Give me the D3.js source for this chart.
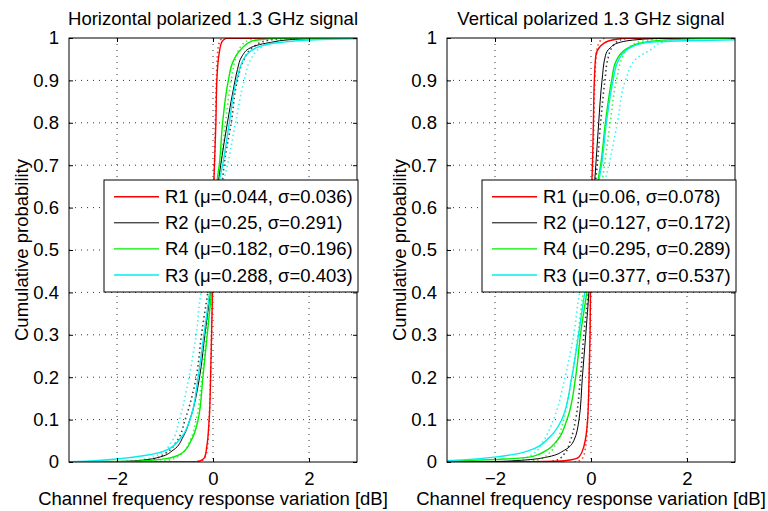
<!DOCTYPE html>
<html>
<head>
<meta charset="utf-8">
<script src="https://cdn.jsdelivr.net/npm/d3@7"></script>
<style>
  body { margin: 0; background: #fff; }
  svg { display: block; font-family: "Liberation Sans", Arial, Helvetica, sans-serif; }
</style>
</head>
<body>
<div id="chart"></div>
<script>
// ---- data ----
const panelTitles = ["Horizontal polarized 1.3 GHz signal", "Vertical polarized 1.3 GHz signal"];
const seriesNames = ["R1", "R2", "R4", "R3"];
const hStats = [[0.044, 0.036], [0.25, 0.291], [0.182, 0.196], [0.288, 0.403]];
const vStats = [[0.06, 0.078], [0.127, 0.172], [0.295, 0.289], [0.377, 0.537]];
const xTicks = [-2, 0, 2];
const yTicks = [0, 0.1, 0.2, 0.3, 0.4, 0.5, 0.6, 0.7, 0.8, 0.9, 1];
const xLabel = "Channel frequency response variation [dB]";
const yLabel = "Cumulative probability";

// [x in dB, cumulative probability] -- measured (solid) and fitted (dotted)
const hR1 = [[-3,0],[-0.31,0.001],[-0.17,0.012],[-0.13,0.036],[-0.08,0.1],[-0.05,0.2],[-0.03,0.3],[-0.01,0.406],[0,0.5],[0.02,0.667],[0.03,0.7],[0.06,0.8],[0.08,0.9],[0.13,0.965],[0.18,0.99],[0.27,0.999],[3,1]];
const hR1Fit = [[-0.42,0],[-0.2,0.005],[-0.12,0.03],[-0.08,0.1],[-0.05,0.2],[-0.03,0.3],[-0.01,0.406],[0,0.5],[0.02,0.667],[0.03,0.7],[0.05,0.8],[0.07,0.9],[0.1,0.97],[0.15,0.995],[0.22,1]];
const hR2 = [[-3,0],[-2.3,0.0005],[-1.6,0.003],[-1.1,0.012],[-0.83,0.028],[-0.62,0.06],[-0.48,0.1],[-0.28,0.2],[-0.17,0.3],[-0.05,0.406],[0.03,0.5],[0.12,0.667],[0.16,0.7],[0.3,0.8],[0.46,0.9],[0.51,0.926],[0.61,0.958],[0.78,0.977],[1.17,0.989],[1.72,0.997],[2.75,0.9995],[3,1]];
const hR2Fit = [[-1.8,0],[-1.3,0.005],[-1.0,0.02],[-0.75,0.05],[-0.58,0.1],[-0.35,0.2],[-0.24,0.3],[-0.1,0.406],[0.02,0.5],[0.2,0.667],[0.23,0.7],[0.38,0.8],[0.51,0.9],[0.65,0.95],[0.85,0.98],[1.16,0.995],[1.6,1]];
const hR4 = [[-3,0],[-2.7,0.0005],[-1.6,0.002],[-0.97,0.008],[-0.66,0.02],[-0.45,0.052],[-0.31,0.1],[-0.21,0.2],[-0.12,0.3],[-0.03,0.406],[0.02,0.5],[0.09,0.667],[0.13,0.7],[0.2,0.8],[0.32,0.9],[0.41,0.942],[0.58,0.973],[0.82,0.993],[1.37,0.9995],[3,1]];
const hR4Fit = [[-1.3,0],[-0.9,0.005],[-0.65,0.02],[-0.48,0.05],[-0.35,0.1],[-0.23,0.2],[-0.14,0.3],[-0.08,0.406],[0,0.5],[0.12,0.667],[0.16,0.7],[0.26,0.8],[0.38,0.9],[0.47,0.95],[0.58,0.98],[0.75,0.995],[1.0,1]];
const hR3 = [[-3,0.001],[-2.63,0.002],[-1.94,0.008],[-1.39,0.016],[-0.97,0.028],[-0.65,0.06],[-0.48,0.1],[-0.31,0.2],[-0.19,0.3],[-0.06,0.406],[0.04,0.5],[0.14,0.667],[0.2,0.7],[0.34,0.8],[0.49,0.9],[0.68,0.958],[0.95,0.979],[1.43,0.99],[2.4,0.997],[3,0.998]];
const hR3Fit = [[-2.0,0],[-1.5,0.005],[-1.1,0.02],[-0.85,0.05],[-0.7,0.1],[-0.5,0.2],[-0.35,0.3],[-0.24,0.406],[-0.02,0.5],[0.23,0.667],[0.3,0.7],[0.47,0.8],[0.65,0.9],[0.79,0.95],[1.03,0.98],[1.43,0.995],[2.0,1]];

const vR1 = [[-3,0],[-1.25,0.001],[-0.55,0.003],[-0.25,0.012],[-0.15,0.036],[-0.07,0.1],[-0.04,0.2],[-0.02,0.3],[-0.01,0.406],[0,0.5],[0.02,0.667],[0.03,0.7],[0.05,0.8],[0.07,0.9],[0.1,0.958],[0.19,0.98],[0.36,0.993],[0.71,0.9995],[3,1]];
const vR1Fit = [[-0.35,0],[-0.2,0.005],[-0.12,0.03],[-0.07,0.1],[-0.04,0.2],[-0.02,0.3],[-0.01,0.406],[0,0.5],[0.03,0.667],[0.04,0.7],[0.06,0.8],[0.08,0.9],[0.12,0.97],[0.2,0.995],[0.3,1]];
const vR2 = [[-3,0],[-2.3,0.0005],[-1.6,0.003],[-0.9,0.012],[-0.55,0.028],[-0.36,0.05],[-0.25,0.1],[-0.18,0.2],[-0.11,0.3],[-0.04,0.406],[0,0.5],[0.08,0.667],[0.1,0.7],[0.16,0.8],[0.23,0.9],[0.3,0.958],[0.4,0.977],[0.58,0.989],[1.07,0.997],[1.7,0.9995],[3,1]];
const vR2Fit = [[-0.9,0],[-0.7,0.005],[-0.55,0.02],[-0.43,0.05],[-0.32,0.1],[-0.22,0.2],[-0.15,0.3],[-0.05,0.406],[0.02,0.5],[0.1,0.667],[0.13,0.7],[0.2,0.8],[0.29,0.9],[0.35,0.95],[0.45,0.98],[0.6,0.995],[0.8,1]];
const vR4 = [[-3,0.002],[-1.96,0.006],[-1.26,0.012],[-0.92,0.028],[-0.71,0.05],[-0.5,0.1],[-0.32,0.2],[-0.22,0.3],[-0.08,0.406],[0.03,0.5],[0.15,0.667],[0.2,0.7],[0.3,0.8],[0.43,0.9],[0.51,0.942],[0.72,0.973],[1.07,0.989],[1.49,0.995],[2.1,0.998],[2.8,0.9995],[3,1]];
const vR4Fit = [[-1.4,0],[-1.1,0.005],[-0.88,0.02],[-0.71,0.05],[-0.57,0.1],[-0.4,0.2],[-0.27,0.3],[-0.15,0.406],[0.05,0.5],[0.24,0.667],[0.28,0.7],[0.4,0.8],[0.53,0.9],[0.67,0.958],[0.95,0.989],[1.5,1]];
const vR3 = [[-3,0.003],[-2.67,0.005],[-1.97,0.012],[-1.27,0.028],[-0.85,0.06],[-0.61,0.1],[-0.4,0.2],[-0.26,0.3],[-0.12,0.406],[0.03,0.5],[0.17,0.667],[0.22,0.7],[0.32,0.8],[0.46,0.9],[0.55,0.942],[0.76,0.973],[1.14,0.989],[1.77,0.993],[3,0.996]];
const vR3Fit = [[-1.9,0],[-1.5,0.005],[-1.2,0.02],[-0.99,0.05],[-0.78,0.1],[-0.54,0.2],[-0.36,0.3],[-0.22,0.406],[0.05,0.5],[0.3,0.667],[0.37,0.7],[0.55,0.8],[0.72,0.9],[0.93,0.95],[1.25,0.973],[1.5,0.99],[1.7,0.995],[2.3,1]];

// ---- styles ----
const colors = { R1: "#ff0000", R2: "#000000", R4: "#00ee00", R3: "#00eeee" };
const widths = { R1: 1.4, R2: 1, R4: 1.4, R3: 1.4 };
const fontSize = 18.5;

const W = 768, H = 511;
const plotTop = 38, plotH = 424, plotW = 288;
const panelLefts = [69, 447];

const svg = d3.select("#chart").append("svg").attr("width", W).attr("height", H);

const panels = [
  { title: panelTitles[0], stats: hStats,
    solid: { R1: hR1, R2: hR2, R4: hR4, R3: hR3 },
    fit: { R1: hR1Fit, R2: hR2Fit, R4: hR4Fit, R3: hR3Fit } },
  { title: panelTitles[1], stats: vStats,
    solid: { R1: vR1, R2: vR2, R4: vR4, R3: vR3 },
    fit: { R1: vR1Fit, R2: vR2Fit, R4: vR4Fit, R3: vR3Fit } }
];

const x = d3.scaleLinear().domain([-3, 3]).range([0, plotW]);
const y = d3.scaleLinear().domain([0, 1]).range([plotH, 0]);
const line = d3.line().x((d) => x(d[0])).y((d) => y(d[1])).curve(d3.curveMonotoneY);

panels.forEach((panel, i) => {
  const g = svg.append("g").attr("transform", `translate(${panelLefts[i]},${plotTop})`);

  g.append("clipPath").attr("id", `clip${i}`)
    .append("rect").attr("width", plotW).attr("height", plotH);

  // dotted grid
  const grid = g.append("g")
    .style("stroke", "#333").style("stroke-width", 1).style("stroke-dasharray", "1,5");
  grid.selectAll(".gx").data(xTicks).enter().append("line")
    .attr("x1", (d) => x(d)).attr("x2", (d) => x(d)).attr("y1", 0).attr("y2", plotH);
  grid.selectAll(".gy").data(yTicks.slice(1, -1)).enter().append("line")
    .attr("y1", (d) => y(d)).attr("y2", (d) => y(d)).attr("x1", 0).attr("x2", plotW);

  // curves
  const curves = g.append("g").attr("clip-path", `url(#clip${i})`).style("fill", "none");
  seriesNames.forEach((s) => {
    curves.append("path").datum(panel.fit[s]).attr("d", line)
      .style("stroke", colors[s]).style("stroke-width", 1.6)
      .style("stroke-dasharray", "1.5,3").style("opacity", 0.75);
  });
  seriesNames.forEach((s) => {
    curves.append("path").datum(panel.solid[s]).attr("d", line)
      .style("stroke", colors[s]).style("stroke-width", widths[s]);
  });

  // axes with inward ticks on all four sides
  const fmtY = (d) => (d === 0 || d === 1 ? d3.format("d")(d) : d3.format(".1f")(d));
  const fmtX = (d) => (d < 0 ? "\u2212" + Math.abs(d) : String(d));
  const axisStyle = (sel) => {
    sel.select(".domain").remove();
    sel.selectAll(".tick line").style("stroke", "#000");
    sel.selectAll("text").style("font-size", fontSize + "px").style("fill", "#000")
      .style("font-family", "'Liberation Sans', Arial, sans-serif");
  };
  g.append("g").attr("transform", `translate(0,${plotH})`)
    .call(d3.axisBottom(x).tickValues(xTicks).tickFormat(fmtX).tickSizeInner(-4).tickPadding(10))
    .call(axisStyle);
  g.append("g")
    .call(d3.axisTop(x).tickValues(xTicks).tickFormat("").tickSizeInner(-4))
    .call(axisStyle);
  g.append("g")
    .call(d3.axisLeft(y).tickValues(yTicks).tickFormat(fmtY).tickSizeInner(-4).tickPadding(10))
    .call(axisStyle);
  g.append("g").attr("transform", `translate(${plotW},0)`)
    .call(d3.axisRight(y).tickValues(yTicks).tickFormat("").tickSizeInner(-4))
    .call(axisStyle);

  g.append("rect").attr("width", plotW).attr("height", plotH)
    .style("fill", "none").style("stroke", "#000").style("stroke-width", 1);

  // legend
  const lg = g.append("g").attr("transform", `translate(${plotW - 253},142)`);
  lg.append("rect").attr("width", 254).attr("height", 112)
    .style("fill", "#fff").style("stroke", "#000").style("stroke-width", 1);
  seriesNames.forEach((s, k) => {
    const ly = 16.7 + k * 26.1;
    lg.append("line").attr("x1", 10).attr("x2", 55).attr("y1", ly).attr("y2", ly)
      .style("stroke", colors[s]).style("stroke-width", widths[s]);
    lg.append("text").attr("x", 61).attr("y", ly + 6.5)
      .style("font-size", fontSize + "px")
      .text(`${s} (\u03bc=${panel.stats[k][0]}, \u03c3=${panel.stats[k][1]})`);
  });

  // titles and labels
  g.append("text").attr("x", plotW / 2).attr("y", -13)
    .style("text-anchor", "middle").style("font-size", fontSize + "px").text(panel.title);
  g.append("text").attr("x", plotW / 2).attr("y", plotH + 43)
    .style("text-anchor", "middle").style("font-size", fontSize + "px").text(xLabel);
  g.append("text")
    .attr("transform", `translate(${-41},${plotH / 2}) rotate(-90)`)
    .style("text-anchor", "middle").style("font-size", fontSize + "px").text(yLabel);
});
</script>
</body>
</html>
